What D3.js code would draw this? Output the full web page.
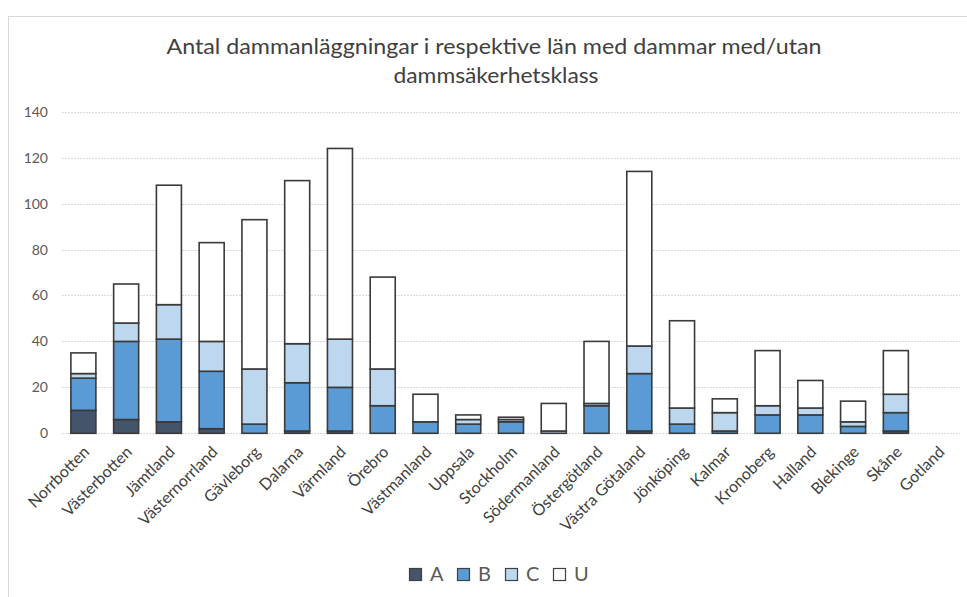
<!DOCTYPE html>
<html>
<head>
<meta charset="utf-8">
<script src="https://cdn.jsdelivr.net/npm/d3@7"></script>
<style>
  body { margin: 0; background: #fff; }
  text { font-family: Lato, "Open Sans", sans-serif; }
</style>
</head>
<body>
<script>
// * DATA
const lan = ["Norrbotten", "Västerbotten", "Jämtland", "Västernorrland", "Gävleborg",
  "Dalarna", "Värmland", "Örebro", "Västmanland", "Uppsala", "Stockholm",
  "Södermanland", "Östergötland", "Västra Götaland", "Jönköping", "Kalmar",
  "Kronoberg", "Halland", "Blekinge", "Skåne", "Gotland"];
const klassA = [10, 6, 5, 2, 0, 1, 1, 0, 0, 0, 0, 0, 0, 1, 0, 0, 0, 0, 0, 1, 0];
const klassB = [14, 34, 36, 25, 4, 21, 19, 12, 5, 4, 5, 0, 12, 25, 4, 1, 8, 8, 3, 8, 0];
const klassC = [2, 8, 15, 13, 24, 17, 21, 16, 0, 2, 1, 1, 1, 12, 7, 8, 4, 3, 2, 8, 0];
const klassU = [9, 17, 52, 43, 65, 71, 83, 40, 12, 2, 1, 12, 27, 76, 38, 6, 24, 12, 9, 19, 0];
const keys = ["A", "B", "C", "U"];
const yTicks = [0, 20, 40, 60, 80, 100, 120, 140];

const rows = lan.map((d, i) => ({
  lan: d, A: klassA[i], B: klassB[i], C: klassC[i], U: klassU[i]
}));

// * SETUP
const width = 967, height = 597;
const color = d3.scaleOrdinal(keys, ["#44546a", "#5b9bd5", "#bdd7ee", "#ffffff"]);

const svg = d3.select("body").append("svg")
  .attr("width", width)
  .attr("height", height)
  .attr("viewBox", [0, 0, width, height]);

// chart frame
svg.append("rect")
  .attr("x", 8.5).attr("y", 16.5)
  .attr("width", width + 20).attr("height", height + 20)
  .attr("fill", "none")
  .attr("stroke", "#d9d9d9");

const x = d3.scaleBand()
  .domain(lan)
  .range([62, 960])
  .paddingInner(0.415)
  .paddingOuter(0.2075);

const y = d3.scaleLinear()
  .domain([0, 140])
  .range([433.3, 111.7]);

// * GRID
svg.append("g")
  .selectAll("line")
  .data(yTicks)
  .join("line")
  .attr("x1", 62).attr("x2", 960)
  .attr("y1", (d) => Math.round(y(d)) + 0.5)
  .attr("y2", (d) => Math.round(y(d)) + 0.5)
  .attr("stroke", "#d9d9d9")
  .attr("stroke-dasharray", "2,1");

// y axis labels
svg.append("g")
  .attr("transform", "translate(48,0)")
  .call(d3.axisLeft(y).tickValues(yTicks).tickSize(0).tickPadding(0))
  .call((g) => g.select(".domain").remove())
  .call((g) => g.selectAll("text")
    .attr("fill", "#595959")
    .style("font-size", "14px")
    .style("font-family", "Lato, sans-serif"));

// * BARS
const series = d3.stack().keys(keys)(rows);

svg.append("g")
  .selectAll("g")
  .data(series)
  .join("g")
  .attr("fill", (d) => color(d.key))
  .selectAll("rect")
  .data((d) => d.filter((v) => v[1] - v[0] > 0))
  .join("rect")
  .attr("x", (d) => x(d.data.lan))
  .attr("y", (d) => y(d[1]))
  .attr("width", x.bandwidth())
  .attr("height", (d) => y(d[0]) - y(d[1]))
  .attr("stroke", "#3a3a3a")
  .attr("stroke-width", 1.6);

// x axis labels
svg.append("g")
  .attr("transform", "translate(0,434)")
  .call(d3.axisBottom(x).tickSize(0).tickPadding(0))
  .call((g) => g.select(".domain").remove())
  .call((g) => g.selectAll("text")
    .attr("text-anchor", "end")
    .attr("dy", 0)
    .attr("y", 0)
    .attr("transform", "translate(7,19) rotate(-45)")
    .attr("fill", "#404040")
    .style("font-size", "16px")
    .style("font-family", "Lato, sans-serif"));

// * TITLE
const title = svg.append("text")
  .attr("text-anchor", "middle")
  .attr("fill", "#404040")
  .style("font-size", "21px");
title.append("tspan").attr("x", 494).attr("y", 54)
  .attr("textLength", 655).attr("lengthAdjust", "spacingAndGlyphs")
  .text("Antal dammanläggningar i respektive län med dammar med/utan");
title.append("tspan").attr("x", 496).attr("y", 83)
  .attr("textLength", 205).attr("lengthAdjust", "spacingAndGlyphs")
  .text("dammsäkerhetsklass");

// * LEGEND
const legend = svg.append("g")
  .selectAll("g")
  .data(keys)
  .join("g")
  .attr("transform", (d, i) => `translate(${409 + i * 48},568)`);

legend.append("rect")
  .attr("width", 12).attr("height", 12)
  .attr("x", 0.5).attr("y", 0.5)
  .attr("fill", (d) => color(d))
  .attr("stroke", "#404040")
  .attr("stroke-width", 1.2);

legend.append("text")
  .attr("x", 21)
  .attr("y", 13)
  .attr("fill", "#595959")
  .style("font-size", "20px")
  .text((d) => d);
</script>
</body>
</html>
